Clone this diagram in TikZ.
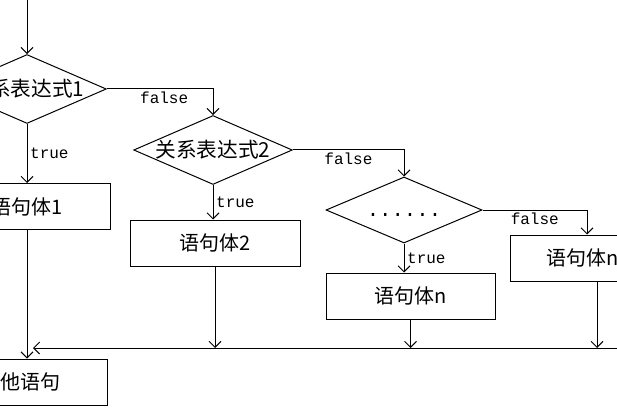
\documentclass[tikz,border=0pt]{standalone}
\usepackage{fontspec}
\setmainfont{Noto Sans CJK SC}
\newfontfamily\codefont{Liberation Mono}
\usetikzlibrary{shapes.geometric, arrows.meta, positioning}

\begin{document}
\begin{tikzpicture}[x=0.75pt, y=-0.75pt,
    decision/.style={diamond, draw, line width=0.75pt, inner sep=0pt, shape aspect=2.3, minimum width=117pt, minimum height=49.5pt, font=\fontsize{15.5}{18}\selectfont},
    block/.style={rectangle, draw, line width=0.75pt, minimum width=#1, minimum height=34.5pt, font=\fontsize{15}{18}\selectfont},
    cond/.style={font=\codefont\fontsize{12}{14}\selectfont, inner sep=2pt},
    arrow/.style={-{Straight Barb[length=4.5pt,width=9pt]}, line width=0.75pt}
]
    \clip (0,0) rectangle (617,417);

    \node[decision] (d1) at (27,89) {关系表达式1};
    \node[decision] (d2) at (213,150) {关系表达式2};
    \node[decision] (d3) at (404,210) {\raisebox{-1.2ex}{\codefont......}};

    \node[block=124.5pt] (b1) at (27,206.5) {语句体1};
    \node[block=127.5pt] (b2) at (215,243) {语句体2};
    \node[block=126.75pt] (bn) at (410.5,296) {语句体n};
    \node[block=109.5pt] (bm) at (583,258) {语句体n};
    \node[block=130.5pt] (b0) at (20,382) {其他语句};

    \coordinate (start) at (27,-5);
    \coordinate (mR) at (625,348);
    \coordinate (mL) at (33,348);

    \draw[arrow] (start) -- (d1.north);
    \draw[arrow] (d1.east) -| node[cond, pos=0.27, below] {false} (d2.north);
    \draw[arrow] (d1) -- node[cond, right] {true} (b1);
    \draw[arrow] (d2.east) -| node[cond, pos=0.25, below] {false} (d3.north);
    \draw[arrow] (d2.south) -- node[cond, right] {true} (d2.south |- b2.north);
    \draw[arrow] (d3.east) -| node[cond, pos=0.25, below] {false} ([xshift=3pt]bm.north);
    \draw[arrow] (d3.south) -- node[cond, right] {true} (d3.south |- bn.north);

    \draw[arrow] (b1) -- (b1 |- b0.north);
    \draw[arrow] (mR) -- (mL);
    \draw[arrow] (b2) -- (b2 |- mL);
    \draw[arrow] (bn) -- (bn |- mL);
    \draw[arrow] ([xshift=10.5pt]bm.south) -- ([xshift=10.5pt]bm.south |- mL);
\end{tikzpicture}
\end{document}
